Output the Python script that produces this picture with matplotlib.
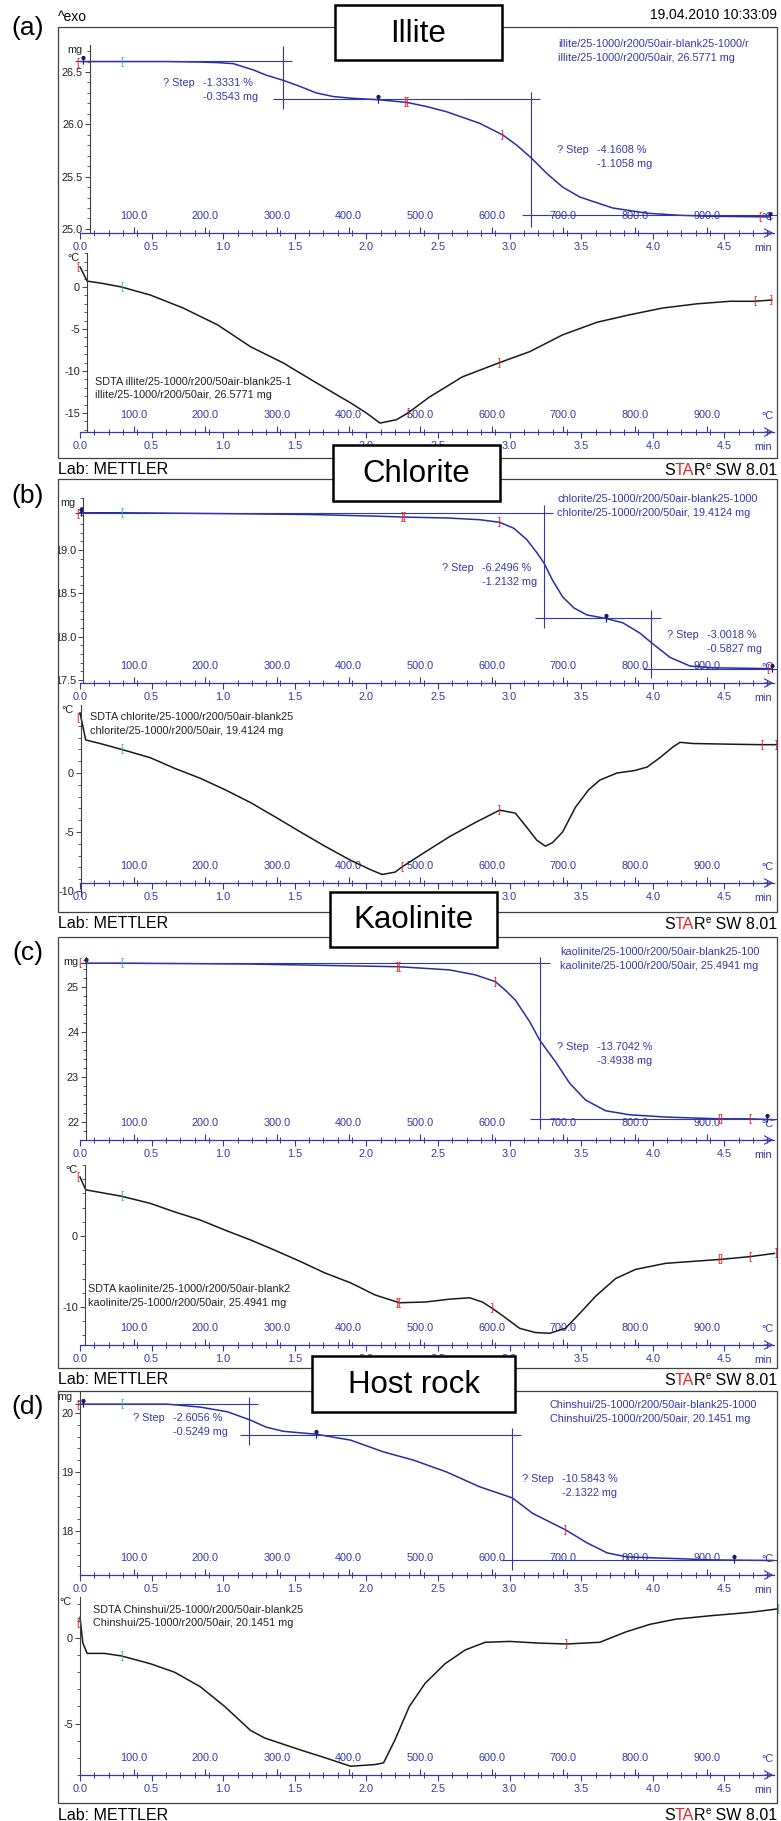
import matplotlib
matplotlib.use("Agg")
import matplotlib.pyplot as plt
from matplotlib.patches import Rectangle
from matplotlib.path import Path
from matplotlib.ticker import MultipleLocator

plt.rcParams['font.family'] = ['Liberation Sans', 'DejaVu Sans']

W, H = 781, 1821
fig = plt.figure(figsize=(W / 100, H / 100), dpi=100)

BLUE = '#3636ab'
LINE_BLUE = '#2b2ba8'
RED = '#ea2424'
CYAN = '#2cb9c2'
PIN = '#161670'
GREY = '#404040'
FS = 7.8

# shared x axis (time in min, temperature in degC)
min_ticks = [0.0, 0.5, 1.0, 1.5, 2.0, 2.5, 3.0, 3.5, 4.0, 4.5]
min_labels = ['0.0', '0.5', '1.0', '1.5', '2.0', '2.5', '3.0', '3.5', '4.0', '4.5']
degc_ticks = [100, 200, 300, 400, 500, 600, 700, 800, 900]
degc_labels = ['100.0', '200.0', '300.0', '400.0', '500.0', '600.0', '700.0', '800.0', '900.0']
start_temp = 25.0
heat_rate = 200.0

tags = ['(a)', '(b)', '(c)', '(d)']
titles = ['Illite', 'Chlorite', 'Kaolinite', 'Host rock']

# ---------------- (a) illite ----------------
a_tga_t = [0.01, 0.30, 0.60, 0.84, 0.96, 1.07, 1.21, 1.30, 1.42, 1.54, 1.65, 1.77, 1.89, 2.08, 2.28,
           2.42, 2.56, 2.79, 2.95, 3.05, 3.15, 3.26, 3.37, 3.49, 3.61, 3.72, 3.96, 4.19, 4.42, 4.82]
a_tga_mg = [26.60, 26.60, 26.60, 26.595, 26.59, 26.58, 26.52, 26.47, 26.42, 26.36, 26.30, 26.265, 26.25,
            26.235, 26.21, 26.17, 26.12, 26.01, 25.90, 25.80, 25.68, 25.53, 25.40, 25.305, 25.25, 25.20,
            25.15, 25.13, 25.12, 25.115]
a_dta_t = [0.0, 0.05, 0.15, 0.29, 0.49, 0.72, 0.96, 1.19, 1.42, 1.65, 1.89, 2.0, 2.095, 2.21, 2.29,
           2.44, 2.67, 2.93, 3.14, 3.37, 3.61, 3.84, 4.07, 4.31, 4.54, 4.71, 4.83]
a_dta_c = [2.4, 0.7, 0.45, 0.0, -0.95, -2.5, -4.5, -7.1, -9.05, -11.4, -13.8, -15.0, -16.2, -15.8, -15.0,
           -13.1, -10.7, -9.0, -7.7, -5.7, -4.2, -3.3, -2.5, -2.0, -1.7, -1.7, -1.55]
a_hlines = [(26.605, -0.035, 1.48), (26.242, 1.348, 3.212), (25.133, 3.087, 4.87)]
a_vlines = [(1.418, 26.146, 26.75), (3.149, 25.02, 26.31)]
a_red_tga = [(-0.014, 26.59, '['), (2.28, 26.21, ']['), (2.95, 25.90, ']'), (4.75, 25.115, '[')]
a_cyan_tga = [(0.29, 26.60, '[')]
a_pin_t = [0.02, 2.08, 4.82]
a_pin_mg = [26.61, 26.24, 25.12]
a_red_dta = [(-0.014, 2.4, '['), (2.29, -15.0, '['), (2.93, -9.0, ']'), (4.71, -1.7, '['), (4.83, -1.55, ']')]
a_cyan_dta = [(0.29, 0.0, '[')]
a_tga_yticks = [25.0, 25.5, 26.0, 26.5]
a_tga_ylabels = ['25.0', '25.5', '26.0', '26.5']
a_dta_yticks = [0, -5, -10, -15]
a_dta_ylabels = ['0', '-5', '-10', '-15']
a_info = ['illite/25-1000/r200/50air-blank25-1000/r', 'illite/25-1000/r200/50air, 26.5771 mg']
a_steps = [('-1.3331 %', '-0.3543 mg'), ('-4.1608 %', '-1.1058 mg')]
a_sdta = ['SDTA illite/25-1000/r200/50air-blank25-1', 'illite/25-1000/r200/50air, 26.5771 mg']

# ---------------- (b) chlorite ----------------
b_tga_t = [0.0, 0.29, 1.0, 1.6, 2.09, 2.26, 2.56, 2.79, 2.93, 3.03, 3.12, 3.19, 3.24, 3.30, 3.37, 3.45,
           3.54, 3.67, 3.79, 3.91, 3.99, 4.12, 4.26, 4.42, 4.82]
b_tga_mg = [19.43, 19.43, 19.42, 19.41, 19.39, 19.38, 19.37, 19.35, 19.32, 19.25, 19.12, 18.97, 18.85,
            18.65, 18.46, 18.33, 18.25, 18.21, 18.16, 18.04, 17.93, 17.76, 17.66, 17.64, 17.63]
b_dta_t = [0.0, 0.04, 0.14, 0.29, 0.49, 0.66, 0.84, 1.01, 1.19, 1.36, 1.54, 1.71, 1.89, 2.03, 2.11, 2.20,
           2.25, 2.41, 2.58, 2.76, 2.93, 3.04, 3.12, 3.19, 3.25, 3.30, 3.37, 3.46, 3.55, 3.63, 3.75, 3.87,
           3.96, 4.05, 4.14, 4.19, 4.28, 4.50, 4.76, 4.86]
b_dta_c = [5.1, 2.8, 2.5, 2.0, 1.3, 0.4, -0.45, -1.4, -2.5, -3.7, -5.0, -6.2, -7.4, -8.2, -8.6, -8.4,
           -7.95, -6.7, -5.4, -4.2, -3.15, -3.4, -4.6, -5.7, -6.2, -5.9, -5.0, -2.9, -1.45, -0.6, 0.0, 0.2,
           0.5, 1.3, 2.2, 2.6, 2.5, 2.45, 2.4, 2.4]
b_hlines = [(19.43, -0.035, 3.30), (18.21, 3.18, 4.06), (17.63, 3.93, 4.87)]
b_vlines = [(3.24, 18.10, 19.52), (3.99, 17.52, 18.31)]
b_red_tga = [(-0.014, 19.42, '['), (2.26, 19.38, ']['), (2.93, 19.32, ']'), (4.80, 17.63, '[')]
b_cyan_tga = [(0.29, 19.43, '[')]
b_pin_t = [0.01, 3.67, 4.83]
b_pin_mg = [19.44, 18.21, 17.64]
b_red_dta = [(-0.014, 4.7, '['), (2.25, -7.95, '['), (2.93, -3.15, ']'), (4.76, 2.4, '['), (4.86, 2.4, ']')]
b_cyan_dta = [(0.29, 2.0, '[')]
b_tga_yticks = [17.5, 18.0, 18.5, 19.0]
b_tga_ylabels = ['17.5', '18.0', '18.5', '19.0']
b_dta_yticks = [0, -5, -10]
b_dta_ylabels = ['0', '-5', '-10']
b_info = ['chlorite/25-1000/r200/50air-blank25-1000', 'chlorite/25-1000/r200/50air, 19.4124 mg']
b_steps = [('-6.2496 %', '-1.2132 mg'), ('-3.0018 %', '-0.5827 mg')]
b_sdta = ['SDTA chlorite/25-1000/r200/50air-blank25', 'chlorite/25-1000/r200/50air, 19.4124 mg']

# ---------------- (c) kaolinite ----------------
c_tga_t = [0.04, 0.29, 1.19, 2.23, 2.58, 2.76, 2.90, 2.97, 3.04, 3.14, 3.21, 3.32, 3.42, 3.53, 3.67,
           3.84, 4.09, 4.47, 4.68, 4.85]
c_tga_mg = [25.53, 25.53, 25.51, 25.45, 25.38, 25.27, 25.12, 24.93, 24.71, 24.23, 23.82, 23.34, 22.86,
            22.49, 22.25, 22.16, 22.11, 22.07, 22.07, 22.05]
c_dta_t = [0.0, 0.04, 0.29, 0.49, 0.66, 0.84, 1.01, 1.19, 1.36, 1.54, 1.71, 1.89, 2.06, 2.23, 2.41, 2.58,
           2.72, 2.81, 2.88, 2.97, 3.07, 3.18, 3.28, 3.39, 3.49, 3.60, 3.74, 3.88, 4.09, 4.33, 4.47, 4.68, 4.85]
c_dta_c = [8.3, 6.5, 5.6, 4.6, 3.4, 2.25, 0.85, -0.55, -2.0, -3.6, -5.2, -6.6, -8.3, -9.4, -9.3, -8.9,
           -8.7, -9.3, -10.2, -11.5, -13.0, -13.6, -13.7, -13.0, -10.9, -8.5, -6.0, -4.7, -3.85, -3.5,
           -3.3, -2.9, -2.45]
c_hlines = [(25.53, 0.0, 3.28), (22.07, 3.14, 4.87)]
c_vlines = [(3.21, 21.85, 25.66)]
c_red_tga = [(0.0, 25.53, '['), (2.23, 25.45, ']['), (2.90, 25.12, ']'), (4.47, 22.07, '[]'), (4.68, 22.07, '[')]
c_cyan_tga = [(0.29, 25.53, '[')]
c_pin_t = [0.04, 4.80]
c_pin_mg = [25.55, 22.08]
c_red_dta = [(-0.014, 8.3, '['), (2.23, -9.4, ']['), (2.88, -10.2, ']'), (4.47, -3.3, '[]'),
             (4.68, -2.9, '['), (4.86, -2.45, ']')]
c_cyan_dta = [(0.29, 5.6, '[')]
c_tga_yticks = [22, 23, 24, 25]
c_tga_ylabels = ['22', '23', '24', '25']
c_dta_yticks = [0, -10]
c_dta_ylabels = ['0', '-10']
c_info = ['kaolinite/25-1000/r200/50air-blank25-100', 'kaolinite/25-1000/r200/50air, 25.4941 mg']
c_steps = [('-13.7042 %', '-3.4938 mg')]
c_sdta = ['SDTA kaolinite/25-1000/r200/50air-blank2', 'kaolinite/25-1000/r200/50air, 25.4941 mg']

# ---------------- (d) host rock ----------------
d_tga_t = [0.0, 0.29, 0.61, 0.84, 1.03, 1.19, 1.30, 1.42, 1.65, 1.89, 2.12, 2.33, 2.56, 2.79, 3.02, 3.16,
           3.39, 3.54, 3.68, 3.82, 4.07, 4.42, 4.84]
d_tga_mg = [20.15, 20.15, 20.15, 20.10, 20.02, 19.88, 19.76, 19.69, 19.64, 19.54, 19.34, 19.20, 19.00,
            18.75, 18.56, 18.30, 18.02, 17.80, 17.63, 17.56, 17.54, 17.51, 17.50]
d_dta_t = [0.0, 0.02, 0.05, 0.17, 0.29, 0.49, 0.66, 0.84, 1.01, 1.19, 1.29, 1.54, 1.71, 1.89, 2.06, 2.12,
           2.20, 2.30, 2.41, 2.55, 2.69, 2.83, 3.00, 3.21, 3.40, 3.63, 3.81, 3.98, 4.16, 4.40, 4.68, 4.87]
d_dta_c = [1.2, -0.3, -0.9, -0.9, -1.05, -1.5, -2.0, -2.85, -4.0, -5.4, -5.85, -6.55, -7.0, -7.5, -7.4,
           -7.3, -5.95, -4.0, -2.65, -1.5, -0.7, -0.25, -0.2, -0.3, -0.35, -0.25, 0.35, 0.8, 1.1, 1.3, 1.5, 1.7]
d_hlines = [(20.15, -0.035, 1.24), (19.63, 1.12, 3.08), (17.50, 2.95, 4.87)]
d_vlines = [(1.18, 19.46, 20.27), (3.02, 17.34, 19.75)]
d_red_tga = [(-0.014, 20.14, '['), (3.39, 18.02, ']')]
d_cyan_tga = [(0.29, 20.15, '[')]
d_pin_t = [0.02, 1.65, 4.57]
d_pin_mg = [20.17, 19.64, 17.52]
d_red_dta = [(-0.014, 0.9, '['), (3.40, -0.35, ']')]
d_cyan_dta = [(0.29, -1.05, '['), (4.88, 1.7, ']')]
d_tga_yticks = [18, 19, 20]
d_tga_ylabels = ['18', '19', '20']
d_dta_yticks = [0, -5]
d_dta_ylabels = ['0', '-5']
d_info = ['Chinshui/25-1000/r200/50air-blank25-1000', 'Chinshui/25-1000/r200/50air, 20.1451 mg']
d_steps = [('-2.6056 %', '-0.5249 mg'), ('-10.5843 %', '-2.1322 mg')]
d_sdta = ['SDTA Chinshui/25-1000/r200/50air-blank25', 'Chinshui/25-1000/r200/50air, 20.1451 mg']


# ---------------- helpers ----------------
AX_L, AX_R = 72, 778
X0_PX, PX_PER_MIN = 80.0, 143.2


def tmin(px):
    return (px - X0_PX) / PX_PER_MIN


def fx(x):
    return x / W


def fy(y):
    return 1 - y / H


def ptext(x, y, s, **kw):
    kw.setdefault('fontsize', FS)
    kw.setdefault('va', 'center')
    return fig.text(fx(x), fy(y), s, **kw)


pin_marker = Path.make_compound_path(Path.circle((0, 0.45), 0.28), Path([(0, 0.45), (0, -0.75)]))


def make_axes(top, line, bottom, spine, ref, yticks, ylabels, ystep, unit, clip):
    rv, rpx, ppu = ref

    def val(y):
        return rv - (y - rpx) / ppu

    ax = fig.add_axes([fx(AX_L), fy(bottom), (AX_R - AX_L) / W, (bottom - top) / H])
    ax.set_facecolor('none')
    ax.set_xlim(tmin(AX_L), tmin(AX_R))
    ax.set_ylim(val(bottom), val(top))
    for s in ('top', 'right'):
        ax.spines[s].set_visible(False)
    ax.spines['bottom'].set_position(('data', val(line)))
    ax.spines['bottom'].set_bounds(0, tmin(774))
    ax.spines['bottom'].set_color(BLUE)
    ax.spines['bottom'].set_linewidth(0.9)
    ax.spines['left'].set_position(('data', tmin(spine)))
    ax.spines['left'].set_bounds(val(bottom), val(top))
    ax.spines['left'].set_color(GREY)
    ax.spines['left'].set_linewidth(0.8)

    ax.set_xticks(min_ticks, labels=min_labels)
    ax.xaxis.set_minor_locator(MultipleLocator(0.1))
    ax.tick_params(axis='x', which='major', direction='out', length=4.5, width=0.8,
                   colors=BLUE, labelsize=FS, pad=2.2)
    ax.tick_params(axis='x', which='minor', direction='inout', length=3.8, width=0.7, colors=BLUE)

    ax.set_yticks(yticks, labels=ylabels)
    ax.yaxis.set_minor_locator(MultipleLocator(ystep))
    ax.tick_params(axis='y', which='major', direction='out', length=3.5, width=0.7,
                   colors=GREY, labelcolor='#222222', labelsize=FS, pad=1.5)
    ax.tick_params(axis='y', which='minor', direction='out', length=2.5, width=0.6, colors=GREY)
    for lbl in ax.get_yticklabels():
        lbl.set_clip_path(clip)

    loc = (val(line) - val(bottom)) / (val(top) - val(bottom))
    sec = ax.secondary_xaxis(loc, functions=(lambda t: start_temp + heat_rate * t,
                                             lambda c: (c - start_temp) / heat_rate))
    for s in sec.spines.values():
        s.set_visible(False)
    sec.set_xticks(degc_ticks, labels=degc_labels)
    sec.tick_params(axis='x', which='major', direction='in', length=4, width=0.8,
                    colors=BLUE, labelsize=FS, pad=-15.5)
    sec.xaxis.set_minor_locator(MultipleLocator(1000))

    ax.annotate('', xy=(tmin(776), val(line)), xytext=(tmin(762), val(line)),
                arrowprops=dict(arrowstyle='->,head_length=0.55,head_width=0.3', color=BLUE, lw=0.8),
                annotation_clip=False)
    ptext(763, line + 15, 'min', color=BLUE, ha='center')
    ptext(767, line - 16, '°C', color=BLUE, ha='center')
    u = ptext(spine - 8, top + 5, unit, color='#222222', ha='right')
    u.set_clip_path(clip)
    return ax


def marks(ax, items, color):
    for t, v, g in items:
        ax.text(t, v, g, color=color, fontsize=7.5, ha='center', va='center', clip_on=False)


def star_label(y):
    parts = [('S', 'black', 11.5, 0), ('TA', RED, 11.5, 0), ('R', 'black', 11.5, 0),
             ('e', 'black', 7, 6), (' SW 8.01', 'black', 11.5, 0)]
    r = fig.canvas.get_renderer()
    x = 777
    for s, c, fs, dy in reversed(parts):
        t = fig.text(fx(x), fy(y + 5 - dy), s, color=c, fontsize=fs, ha='right', va='baseline')
        x -= t.get_window_extent(r).width


panels = [
    dict(frame=(27, 458), box=(335, 502, 5, 60), tag_y=28,
         tga=dict(top=45, line=233, bottom=233, spine=90, ref=(26.5, 72, 104.6)),
         dta=dict(top=253, line=432, bottom=432, spine=87, ref=(0, 287, 8.4)),
         tga_step=0.1, dta_step=1,
         info_xy=(558, 44), step_xy=[(163, 83), (557, 150)], sdta_xy=(95, 382),
         tga_t=a_tga_t, tga_v=a_tga_mg, dta_t=a_dta_t, dta_v=a_dta_c, hl=a_hlines, vl=a_vlines,
         red_tga=a_red_tga, cyan_tga=a_cyan_tga, pin_t=a_pin_t, pin_v=a_pin_mg,
         red_dta=a_red_dta, cyan_dta=a_cyan_dta, tga_yt=a_tga_yticks, tga_yl=a_tga_ylabels,
         dta_yt=a_dta_yticks, dta_yl=a_dta_ylabels, info=a_info, steps=a_steps, sdta=a_sdta),
    dict(frame=(479, 912), box=(333, 500, 445, 501), tag_y=496,
         tga=dict(top=498, line=683, bottom=683, spine=83, ref=(19.0, 550, 86.6)),
         dta=dict(top=705, line=883, bottom=896, spine=81, ref=(0, 773, 11.8)),
         tga_step=0.1, dta_step=1,
         info_xy=(557, 499), step_xy=[(442, 568), (667, 635)], sdta_xy=(90, 717),
         tga_t=b_tga_t, tga_v=b_tga_mg, dta_t=b_dta_t, dta_v=b_dta_c, hl=b_hlines, vl=b_vlines,
         red_tga=b_red_tga, cyan_tga=b_cyan_tga, pin_t=b_pin_t, pin_v=b_pin_mg,
         red_dta=b_red_dta, cyan_dta=b_cyan_dta, tga_yt=b_tga_yticks, tga_yl=b_tga_ylabels,
         dta_yt=b_dta_yticks, dta_yl=b_dta_ylabels, info=b_info, steps=b_steps, sdta=b_sdta),
    dict(frame=(937, 1368), box=(330, 497, 892, 947), tag_y=953,
         tga=dict(top=957, line=1140, bottom=1140, spine=86, ref=(25, 987, 45)),
         dta=dict(top=1165, line=1345, bottom=1345, spine=85, ref=(0, 1236, 7.1)),
         tga_step=0.2, dta_step=2,
         info_xy=(560, 952), step_xy=[(557, 1047)], sdta_xy=(88, 1289),
         tga_t=c_tga_t, tga_v=c_tga_mg, dta_t=c_dta_t, dta_v=c_dta_c, hl=c_hlines, vl=c_vlines,
         red_tga=c_red_tga, cyan_tga=c_cyan_tga, pin_t=c_pin_t, pin_v=c_pin_mg,
         red_dta=c_red_dta, cyan_dta=c_cyan_dta, tga_yt=c_tga_yticks, tga_yl=c_tga_ylabels,
         dta_yt=c_dta_yticks, dta_yl=c_dta_ylabels, info=c_info, steps=c_steps, sdta=c_sdta),
    dict(frame=(1391, 1803), box=(312, 515, 1356, 1412), tag_y=1407,
         tga=dict(top=1392, line=1575, bottom=1575, spine=80, ref=(20, 1413, 59)),
         dta=dict(top=1597, line=1775, bottom=1775, spine=80, ref=(0, 1638, 17.1)),
         tga_step=0.2, dta_step=1,
         info_xy=(550, 1405), step_xy=[(133, 1418), (522, 1479)], sdta_xy=(93, 1610),
         tga_t=d_tga_t, tga_v=d_tga_mg, dta_t=d_dta_t, dta_v=d_dta_c, hl=d_hlines, vl=d_vlines,
         red_tga=d_red_tga, cyan_tga=d_cyan_tga, pin_t=d_pin_t, pin_v=d_pin_mg,
         red_dta=d_red_dta, cyan_dta=d_cyan_dta, tga_yt=d_tga_yticks, tga_yl=d_tga_ylabels,
         dta_yt=d_dta_yticks, dta_yl=d_dta_ylabels, info=d_info, steps=d_steps, sdta=d_sdta),
]

for i, p in enumerate(panels):
    ft, fb = p['frame']
    frame = Rectangle((fx(58), fy(fb)), (777 - 58) / W, (fb - ft) / H, transform=fig.transFigure,
                      fill=False, ec=GREY, lw=0.9, zorder=2)
    fig.add_artist(frame)

    g = p['tga']
    ax1 = make_axes(g['top'], g['line'], g['bottom'], g['spine'], g['ref'],
                    p['tga_yt'], p['tga_yl'], p['tga_step'], 'mg', frame)
    ax1.plot(p['tga_t'], p['tga_v'], color=LINE_BLUE, lw=1.1)
    for v, t0, t1 in p['hl']:
        ax1.hlines(v, t0, t1, color=BLUE, lw=0.8, clip_on=False)
    for t, v0, v1 in p['vl']:
        ax1.vlines(t, v0, v1, color=BLUE, lw=0.8, clip_on=False)
    marks(ax1, p['red_tga'], RED)
    marks(ax1, p['cyan_tga'], CYAN)
    ax1.plot(p['pin_t'], p['pin_v'], linestyle='none', marker=pin_marker, ms=6,
             color=PIN, mec=PIN, mew=0.8, clip_on=False)

    g = p['dta']
    ax2 = make_axes(g['top'], g['line'], g['bottom'], g['spine'], g['ref'],
                    p['dta_yt'], p['dta_yl'], p['dta_step'], '°C', frame)
    ax2.plot(p['dta_t'], p['dta_v'], color='#1a1a1a', lw=1.1)
    marks(ax2, p['red_dta'], RED)
    marks(ax2, p['cyan_dta'], CYAN)

    # annotation texts
    ix, iy = p['info_xy']
    for k, s in enumerate(p['info']):
        ptext(ix, iy + 14 * k, s, color=BLUE)
    for (sx, sy), (pct, mg) in zip(p['step_xy'], p['steps']):
        ptext(sx, sy, '? Step', color=BLUE)
        ptext(sx + 40, sy, pct, color=BLUE)
        ptext(sx + 40, sy + 14, mg, color=BLUE)
    dx, dy = p['sdta_xy']
    for k, s in enumerate(p['sdta']):
        ptext(dx, dy + 13.5 * k, s, color='#222222')

    # title box
    bl, br, bt, bb = p['box']
    fig.add_artist(Rectangle((fx(bl), fy(bb)), (br - bl) / W, (bb - bt) / H, transform=fig.transFigure,
                             fc='white', ec='black', lw=1.8, zorder=5))
    ptext((bl + br) / 2, (bt + bb) / 2 + 1, titles[i], fontsize=22.5, ha='center', zorder=6)

    ptext(28, p['tag_y'], tags[i], fontsize=19, ha='center')
    ptext(58, fb + 12, 'Lab: METTLER', fontsize=11.5)
    star_label(fb + 12)

ptext(58, 17, '^exo', fontsize=10)
ptext(777, 15, '19.04.2010 10:33:09', fontsize=10, ha='right')

fig.savefig('out.png', dpi=100, facecolor='white')
